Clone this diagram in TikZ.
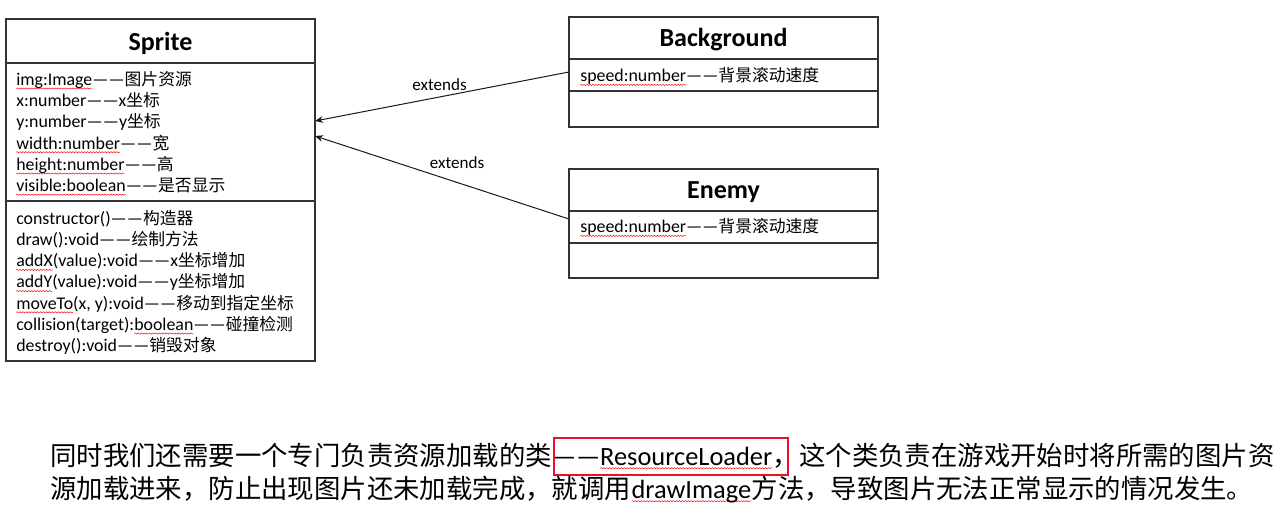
\documentclass[tikz,border=0pt]{standalone}
\usepackage{fontspec}
\setmainfont{Carlito}
\newfontfamily\cjk{Noto Sans CJK SC}
\newfontfamily\cjksmall[Scale=0.94]{Noto Sans CJK SC}
\usepackage{tikz}
\usetikzlibrary{positioning}
\usetikzlibrary{calc}
\usetikzlibrary{arrows.meta}
\usetikzlibrary{decorations}
\usetikzlibrary{decorations.pathmorphing}
\definecolor{hired}{rgb}{0.91, 0.07, 0.14}

\newcommand\zh[1]{{\cjksmall #1}}
\newcommand\zhbig[1]{{\cjk #1}}
\newlength\sqwd
% red spell-check wave under a word
\newcommand\sq[1]{\settowidth\sqwd{#1}\rlap{\tikz[overlay,baseline=0pt]\draw[red,line width=.35pt,decorate,decoration={snake,amplitude=.45pt,segment length=2.2pt}] (0pt,-2.4pt) -- (\sqwd,-2.4pt);}#1}

\tikzset{
  classbox/.style={draw=black!80, line width=1.3pt, inner sep=0pt, outer sep=0pt, anchor=north west},
  divider/.style={draw=black!80, line width=1.3pt},
  classname/.style={font=\bfseries\fontsize{19.5}{23}\selectfont, inner sep=0pt, anchor=base},
  member/.style={font=\fontsize{13.4}{16}\selectfont, inner sep=0pt, anchor=base west},
  extlabel/.style={font=\fontsize{12.8}{16}\selectfont, inner sep=0pt, anchor=base},
  inherit/.style={-{Stealth[length=6pt,width=5pt]}, line width=.75pt, black!90},
  prose/.style={font=\fontsize{19.8}{24}\selectfont, inner sep=0pt, anchor=base west},
  hilite/.style={draw=hired, line width=1.5pt}
}

\begin{document}
\begin{tikzpicture}[x=0.75pt, y=-0.75pt]
    \useasboundingbox (0,0) rectangle (1277,519);

    % Sprite
    \node[classbox, minimum width=231.75pt, minimum height=256.5pt] (sprite) at (6,19) {};
    \draw[divider] (sprite.west |- 0,63) -- (sprite.east |- 0,63);
    \draw[divider] (sprite.west |- 0,201) -- (sprite.east |- 0,201);
    \node[classname] (spritename) at (160.5,50) {Sprite};

    \node[member] (s1) at (16,85.3) {\sq{img:Image}——\zh{图片资源}};
    \node[member] (s2) at (16,106.5) {x:number——x\zh{坐标}};
    \node[member] (s3) at (16,127.8) {y:number——y\zh{坐标}};
    \node[member] (s4) at (16,149) {\sq{width:number}——\zh{宽}};
    \node[member] (s5) at (16,170.3) {\sq{height:number}——\zh{高}};
    \node[member] (s6) at (16,191.5) {\sq{visible:boolean}——\zh{是否显示}};

    \node[member] (m1) at (16,224.3) {constructor()——\zh{构造器}};
    \node[member] (m2) at (16,245.5) {draw():void——\zh{绘制方法}};
    \node[member] (m3) at (16,266.7) {\sq{addX}(value):void——x\zh{坐标增加}};
    \node[member] (m4) at (16,287.9) {\sq{addY}(value):void——y\zh{坐标增加}};
    \node[member] (m5) at (16,309.1) {\sq{moveTo}(x, y):void——\zh{移动到指定坐标}};
    \node[member] (m6) at (16,330.3) {collision(target):\sq{boolean}——\zh{碰撞检测}};
    \node[member] (m7) at (16,351.5) {destroy():void——\zh{销毁对象}};

    % Background
    \node[classbox, minimum width=231.75pt, minimum height=82.5pt] (bg) at (569,17) {};
    \draw[divider] (bg.west |- 0,59) -- (bg.east |- 0,59);
    \draw[divider] (bg.west |- 0,91) -- (bg.east |- 0,91);
    \node[classname] (bgname) at (723.5,46) {Background};
    \node[member] (b1) at (580,81.7) {\sq{speed:number}——\zh{背景滚动速度}};

    % Enemy
    \node[classbox, minimum width=231.75pt, minimum height=81.75pt] (enemy) at (569,169) {};
    \draw[divider] (enemy.west |- 0,211) -- (enemy.east |- 0,211);
    \draw[divider] (enemy.west |- 0,243) -- (enemy.east |- 0,243);
    \node[classname] (enemyname) at (723.5,198.3) {Enemy};
    \node[member] (e1) at (580,232.7) {\sq{speed:number}——\zh{背景滚动速度}};

    % extends
    \draw[inherit] (bg.west |- 0,72) -- (sprite.east |- 0,121);
    \draw[inherit] (enemy.west |- 0,219) -- (sprite.east |- 0,136);
    \node[extlabel] (ext1) at (439.5,90) {extends};
    \node[extlabel] (ext2) at (457,168) {extends};

    % text below
    \node[prose] (p1) at (50,465) {\zhbig{同时我们还需要一个专门负责资源加载的类}};
    \node[prose, base right=0pt of p1] (p2) {——\sq{ResourceLoader}};
    \node[prose, base right=0pt of p2] (p3) {\zhbig{，这个类负责在游戏开始时将所需的图片资}};
    \draw[hilite] ($(p2.base west)+(1.5,-27)$) rectangle ($(p3.base west)+(15,10)$);

    \node[prose] (q1) at (50,498) {\zhbig{源加载进来，防止出现图片还未加载完成，就调用}};
    \node[prose, base right=0pt of q1] (q2) {\sq{drawImage}};
    \node[prose, base right=0pt of q2] (q3) {\zhbig{方法，导致图片无法正常显示的情况发生。}};
\end{tikzpicture}
\end{document}
